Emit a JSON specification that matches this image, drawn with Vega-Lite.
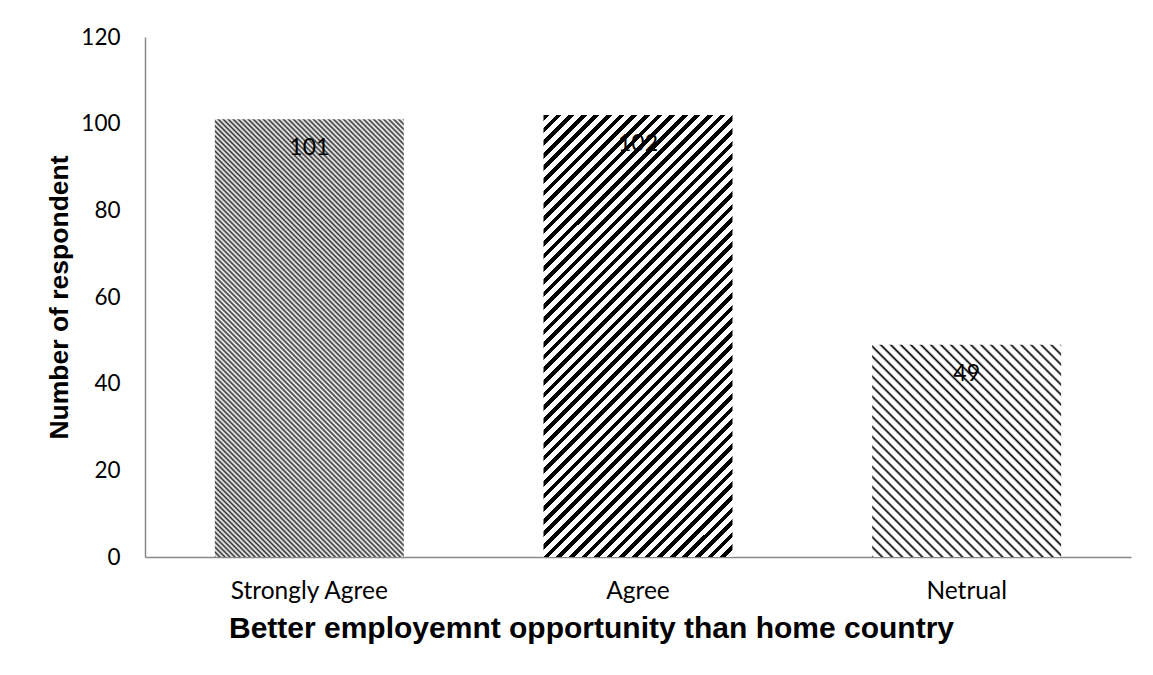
{
  "$schema": "https://vega.github.io/schema/vega-lite/v6.json",
  "width": 986,
  "height": 520,
  "autosize": {"type": "none"},
  "padding": {"left": 145, "top": 37, "right": 22, "bottom": 118},
  "background": "white",
  "config": {"view": {"stroke": null}, "font": "Lato"},
  "data": {"values": [
    {"category": "Strongly Agree", "count": 101},
    {"category": "Agree", "count": 102},
    {"category": "Netrual", "count": 49}
  ]},
  "encoding": {
    "x": {
      "field": "category", "type": "nominal", "sort": null,
      "scale": {"domain": ["Strongly Agree", "Agree", "Netrual"], "paddingInner": 0.425, "paddingOuter": 0.2125},
      "axis": {
        "title": "Better employemnt opportunity than home country",
        "labelAngle": 0, "ticks": false, "tickSize": 0, "labelPadding": 22,
        "labelFont": "Lato", "labelFontSize": 24.5, "labelColor": "#000",
        "domainColor": "#898989", "domainWidth": 1.5,
        "titleFont": "Liberation Sans", "titleFontWeight": "bold", "titleFontSize": 30, "titleColor": "#000",
        "titlePadding": 11, "titleX": 446, "titleAlign": "center"
      }
    },
    "y": {
      "field": "count", "type": "quantitative",
      "scale": {"domain": [0, 120], "nice": false},
      "axis": {
        "title": "Number of respondent",
        "values": [0, 20, 40, 60, 80, 100, 120],
        "grid": false, "ticks": false, "tickSize": 0, "labelPadding": 25,
        "labelFont": "Lato", "labelFontSize": 22.5, "labelColor": "#000",
        "domainColor": "#898989", "domainWidth": 1.5,
        "titleFont": "Liberation Sans", "titleFontWeight": "bold", "titleFontSize": 26.5, "titleColor": "#000",
        "titlePadding": 7
      }
    }
  },
  "layer": [
    {
      "transform": [{"filter": "datum.category === 'Strongly Agree'"}],
      "mark": {"type": "bar", "stroke": null, "fill": {"gradient": "linear", "x1": 0, "y1": 1, "x2": 0.5211, "y2": -0.2068, "stops": [
        {"offset": 0, "color": "#333"}, {"offset": 0.004, "color": "#fff"},
        {"offset": 0.008, "color": "#333"}, {"offset": 0.012, "color": "#fff"},
        {"offset": 0.016, "color": "#333"}, {"offset": 0.02, "color": "#fff"},
        {"offset": 0.024, "color": "#333"}, {"offset": 0.028, "color": "#fff"},
        {"offset": 0.032, "color": "#333"}, {"offset": 0.036, "color": "#fff"},
        {"offset": 0.04, "color": "#333"}, {"offset": 0.044, "color": "#fff"},
        {"offset": 0.048, "color": "#333"}, {"offset": 0.052, "color": "#fff"},
        {"offset": 0.056, "color": "#333"}, {"offset": 0.06, "color": "#fff"},
        {"offset": 0.064, "color": "#333"}, {"offset": 0.068, "color": "#fff"},
        {"offset": 0.072, "color": "#333"}, {"offset": 0.076, "color": "#fff"},
        {"offset": 0.08, "color": "#333"}, {"offset": 0.084, "color": "#fff"},
        {"offset": 0.088, "color": "#333"}, {"offset": 0.092, "color": "#fff"},
        {"offset": 0.096, "color": "#333"}, {"offset": 0.1, "color": "#fff"},
        {"offset": 0.104, "color": "#333"}, {"offset": 0.108, "color": "#fff"},
        {"offset": 0.112, "color": "#333"}, {"offset": 0.116, "color": "#fff"},
        {"offset": 0.12, "color": "#333"}, {"offset": 0.124, "color": "#fff"},
        {"offset": 0.128, "color": "#333"}, {"offset": 0.132, "color": "#fff"},
        {"offset": 0.136, "color": "#333"}, {"offset": 0.14, "color": "#fff"},
        {"offset": 0.144, "color": "#333"}, {"offset": 0.148, "color": "#fff"},
        {"offset": 0.152, "color": "#333"}, {"offset": 0.156, "color": "#fff"},
        {"offset": 0.16, "color": "#333"}, {"offset": 0.164, "color": "#fff"},
        {"offset": 0.168, "color": "#333"}, {"offset": 0.172, "color": "#fff"},
        {"offset": 0.176, "color": "#333"}, {"offset": 0.18, "color": "#fff"},
        {"offset": 0.184, "color": "#333"}, {"offset": 0.188, "color": "#fff"},
        {"offset": 0.192, "color": "#333"}, {"offset": 0.196, "color": "#fff"},
        {"offset": 0.2, "color": "#333"}, {"offset": 0.204, "color": "#fff"},
        {"offset": 0.208, "color": "#333"}, {"offset": 0.212, "color": "#fff"},
        {"offset": 0.216, "color": "#333"}, {"offset": 0.22, "color": "#fff"},
        {"offset": 0.224, "color": "#333"}, {"offset": 0.228, "color": "#fff"},
        {"offset": 0.232, "color": "#333"}, {"offset": 0.236, "color": "#fff"},
        {"offset": 0.24, "color": "#333"}, {"offset": 0.244, "color": "#fff"},
        {"offset": 0.248, "color": "#333"}, {"offset": 0.252, "color": "#fff"},
        {"offset": 0.256, "color": "#333"}, {"offset": 0.26, "color": "#fff"},
        {"offset": 0.264, "color": "#333"}, {"offset": 0.268, "color": "#fff"},
        {"offset": 0.272, "color": "#333"}, {"offset": 0.276, "color": "#fff"},
        {"offset": 0.28, "color": "#333"}, {"offset": 0.284, "color": "#fff"},
        {"offset": 0.288, "color": "#333"}, {"offset": 0.292, "color": "#fff"},
        {"offset": 0.296, "color": "#333"}, {"offset": 0.3, "color": "#fff"},
        {"offset": 0.304, "color": "#333"}, {"offset": 0.308, "color": "#fff"},
        {"offset": 0.312, "color": "#333"}, {"offset": 0.316, "color": "#fff"},
        {"offset": 0.32, "color": "#333"}, {"offset": 0.324, "color": "#fff"},
        {"offset": 0.328, "color": "#333"}, {"offset": 0.332, "color": "#fff"},
        {"offset": 0.336, "color": "#333"}, {"offset": 0.34, "color": "#fff"},
        {"offset": 0.344, "color": "#333"}, {"offset": 0.348, "color": "#fff"},
        {"offset": 0.352, "color": "#333"}, {"offset": 0.356, "color": "#fff"},
        {"offset": 0.36, "color": "#333"}, {"offset": 0.364, "color": "#fff"},
        {"offset": 0.368, "color": "#333"}, {"offset": 0.372, "color": "#fff"},
        {"offset": 0.376, "color": "#333"}, {"offset": 0.38, "color": "#fff"},
        {"offset": 0.384, "color": "#333"}, {"offset": 0.388, "color": "#fff"},
        {"offset": 0.392, "color": "#333"}, {"offset": 0.396, "color": "#fff"},
        {"offset": 0.4, "color": "#333"}, {"offset": 0.404, "color": "#fff"},
        {"offset": 0.408, "color": "#333"}, {"offset": 0.412, "color": "#fff"},
        {"offset": 0.416, "color": "#333"}, {"offset": 0.42, "color": "#fff"},
        {"offset": 0.424, "color": "#333"}, {"offset": 0.428, "color": "#fff"},
        {"offset": 0.432, "color": "#333"}, {"offset": 0.436, "color": "#fff"},
        {"offset": 0.44, "color": "#333"}, {"offset": 0.444, "color": "#fff"},
        {"offset": 0.448, "color": "#333"}, {"offset": 0.452, "color": "#fff"},
        {"offset": 0.456, "color": "#333"}, {"offset": 0.46, "color": "#fff"},
        {"offset": 0.464, "color": "#333"}, {"offset": 0.468, "color": "#fff"},
        {"offset": 0.472, "color": "#333"}, {"offset": 0.476, "color": "#fff"},
        {"offset": 0.48, "color": "#333"}, {"offset": 0.484, "color": "#fff"},
        {"offset": 0.488, "color": "#333"}, {"offset": 0.492, "color": "#fff"},
        {"offset": 0.496, "color": "#333"}, {"offset": 0.5, "color": "#fff"},
        {"offset": 0.504, "color": "#333"}, {"offset": 0.508, "color": "#fff"},
        {"offset": 0.512, "color": "#333"}, {"offset": 0.516, "color": "#fff"},
        {"offset": 0.52, "color": "#333"}, {"offset": 0.524, "color": "#fff"},
        {"offset": 0.528, "color": "#333"}, {"offset": 0.532, "color": "#fff"},
        {"offset": 0.536, "color": "#333"}, {"offset": 0.54, "color": "#fff"},
        {"offset": 0.544, "color": "#333"}, {"offset": 0.548, "color": "#fff"},
        {"offset": 0.552, "color": "#333"}, {"offset": 0.556, "color": "#fff"},
        {"offset": 0.56, "color": "#333"}, {"offset": 0.564, "color": "#fff"},
        {"offset": 0.568, "color": "#333"}, {"offset": 0.572, "color": "#fff"},
        {"offset": 0.576, "color": "#333"}, {"offset": 0.58, "color": "#fff"},
        {"offset": 0.584, "color": "#333"}, {"offset": 0.588, "color": "#fff"},
        {"offset": 0.592, "color": "#333"}, {"offset": 0.596, "color": "#fff"},
        {"offset": 0.6, "color": "#333"}, {"offset": 0.604, "color": "#fff"},
        {"offset": 0.608, "color": "#333"}, {"offset": 0.612, "color": "#fff"},
        {"offset": 0.616, "color": "#333"}, {"offset": 0.62, "color": "#fff"},
        {"offset": 0.624, "color": "#333"}, {"offset": 0.628, "color": "#fff"},
        {"offset": 0.632, "color": "#333"}, {"offset": 0.636, "color": "#fff"},
        {"offset": 0.64, "color": "#333"}, {"offset": 0.644, "color": "#fff"},
        {"offset": 0.648, "color": "#333"}, {"offset": 0.652, "color": "#fff"},
        {"offset": 0.656, "color": "#333"}, {"offset": 0.66, "color": "#fff"},
        {"offset": 0.664, "color": "#333"}, {"offset": 0.668, "color": "#fff"},
        {"offset": 0.672, "color": "#333"}, {"offset": 0.676, "color": "#fff"},
        {"offset": 0.68, "color": "#333"}, {"offset": 0.684, "color": "#fff"},
        {"offset": 0.688, "color": "#333"}, {"offset": 0.692, "color": "#fff"},
        {"offset": 0.696, "color": "#333"}, {"offset": 0.7, "color": "#fff"},
        {"offset": 0.704, "color": "#333"}, {"offset": 0.708, "color": "#fff"},
        {"offset": 0.712, "color": "#333"}, {"offset": 0.716, "color": "#fff"},
        {"offset": 0.72, "color": "#333"}, {"offset": 0.724, "color": "#fff"},
        {"offset": 0.728, "color": "#333"}, {"offset": 0.732, "color": "#fff"},
        {"offset": 0.736, "color": "#333"}, {"offset": 0.74, "color": "#fff"},
        {"offset": 0.744, "color": "#333"}, {"offset": 0.748, "color": "#fff"},
        {"offset": 0.752, "color": "#333"}, {"offset": 0.756, "color": "#fff"},
        {"offset": 0.76, "color": "#333"}, {"offset": 0.764, "color": "#fff"},
        {"offset": 0.768, "color": "#333"}, {"offset": 0.772, "color": "#fff"},
        {"offset": 0.776, "color": "#333"}, {"offset": 0.78, "color": "#fff"},
        {"offset": 0.784, "color": "#333"}, {"offset": 0.788, "color": "#fff"},
        {"offset": 0.792, "color": "#333"}, {"offset": 0.796, "color": "#fff"},
        {"offset": 0.8, "color": "#333"}, {"offset": 0.804, "color": "#fff"},
        {"offset": 0.808, "color": "#333"}, {"offset": 0.812, "color": "#fff"},
        {"offset": 0.816, "color": "#333"}, {"offset": 0.82, "color": "#fff"},
        {"offset": 0.824, "color": "#333"}, {"offset": 0.828, "color": "#fff"},
        {"offset": 0.832, "color": "#333"}, {"offset": 0.836, "color": "#fff"},
        {"offset": 0.84, "color": "#333"}, {"offset": 0.844, "color": "#fff"},
        {"offset": 0.848, "color": "#333"}, {"offset": 0.852, "color": "#fff"},
        {"offset": 0.856, "color": "#333"}, {"offset": 0.86, "color": "#fff"},
        {"offset": 0.864, "color": "#333"}, {"offset": 0.868, "color": "#fff"},
        {"offset": 0.872, "color": "#333"}, {"offset": 0.876, "color": "#fff"},
        {"offset": 0.88, "color": "#333"}, {"offset": 0.884, "color": "#fff"},
        {"offset": 0.888, "color": "#333"}, {"offset": 0.892, "color": "#fff"},
        {"offset": 0.896, "color": "#333"}, {"offset": 0.9, "color": "#fff"},
        {"offset": 0.904, "color": "#333"}, {"offset": 0.908, "color": "#fff"},
        {"offset": 0.912, "color": "#333"}, {"offset": 0.916, "color": "#fff"},
        {"offset": 0.92, "color": "#333"}, {"offset": 0.924, "color": "#fff"},
        {"offset": 0.928, "color": "#333"}, {"offset": 0.932, "color": "#fff"},
        {"offset": 0.936, "color": "#333"}, {"offset": 0.94, "color": "#fff"},
        {"offset": 0.944, "color": "#333"}, {"offset": 0.948, "color": "#fff"},
        {"offset": 0.952, "color": "#333"}, {"offset": 0.956, "color": "#fff"},
        {"offset": 0.96, "color": "#333"}, {"offset": 0.964, "color": "#fff"},
        {"offset": 0.968, "color": "#333"}, {"offset": 0.972, "color": "#fff"},
        {"offset": 0.976, "color": "#333"}, {"offset": 0.98, "color": "#fff"},
        {"offset": 0.984, "color": "#333"}, {"offset": 0.988, "color": "#fff"},
        {"offset": 0.992, "color": "#333"}, {"offset": 0.996, "color": "#fff"},
        {"offset": 1, "color": "#333"}
      ]}}
    },
    {
      "transform": [{"filter": "datum.category === 'Agree'"}],
      "mark": {"type": "bar", "stroke": null, "fill": {"gradient": "linear", "x1": 0, "y1": 0, "x2": 0.516, "y2": 1.2069, "stops": [
        {"offset": 0, "color": "#000"}, {"offset": 0.009, "color": "#000"}, {"offset": 0.009, "color": "#fff"}, {"offset": 0.02, "color": "#fff"},
        {"offset": 0.02, "color": "#000"}, {"offset": 0.029, "color": "#000"}, {"offset": 0.029, "color": "#fff"}, {"offset": 0.04, "color": "#fff"},
        {"offset": 0.04, "color": "#000"}, {"offset": 0.049, "color": "#000"}, {"offset": 0.049, "color": "#fff"}, {"offset": 0.06, "color": "#fff"},
        {"offset": 0.06, "color": "#000"}, {"offset": 0.069, "color": "#000"}, {"offset": 0.069, "color": "#fff"}, {"offset": 0.08, "color": "#fff"},
        {"offset": 0.08, "color": "#000"}, {"offset": 0.089, "color": "#000"}, {"offset": 0.089, "color": "#fff"}, {"offset": 0.1, "color": "#fff"},
        {"offset": 0.1, "color": "#000"}, {"offset": 0.109, "color": "#000"}, {"offset": 0.109, "color": "#fff"}, {"offset": 0.12, "color": "#fff"},
        {"offset": 0.12, "color": "#000"}, {"offset": 0.129, "color": "#000"}, {"offset": 0.129, "color": "#fff"}, {"offset": 0.14, "color": "#fff"},
        {"offset": 0.14, "color": "#000"}, {"offset": 0.149, "color": "#000"}, {"offset": 0.149, "color": "#fff"}, {"offset": 0.16, "color": "#fff"},
        {"offset": 0.16, "color": "#000"}, {"offset": 0.169, "color": "#000"}, {"offset": 0.169, "color": "#fff"}, {"offset": 0.18, "color": "#fff"},
        {"offset": 0.18, "color": "#000"}, {"offset": 0.189, "color": "#000"}, {"offset": 0.189, "color": "#fff"}, {"offset": 0.2, "color": "#fff"},
        {"offset": 0.2, "color": "#000"}, {"offset": 0.209, "color": "#000"}, {"offset": 0.209, "color": "#fff"}, {"offset": 0.22, "color": "#fff"},
        {"offset": 0.22, "color": "#000"}, {"offset": 0.229, "color": "#000"}, {"offset": 0.229, "color": "#fff"}, {"offset": 0.24, "color": "#fff"},
        {"offset": 0.24, "color": "#000"}, {"offset": 0.249, "color": "#000"}, {"offset": 0.249, "color": "#fff"}, {"offset": 0.26, "color": "#fff"},
        {"offset": 0.26, "color": "#000"}, {"offset": 0.269, "color": "#000"}, {"offset": 0.269, "color": "#fff"}, {"offset": 0.28, "color": "#fff"},
        {"offset": 0.28, "color": "#000"}, {"offset": 0.289, "color": "#000"}, {"offset": 0.289, "color": "#fff"}, {"offset": 0.3, "color": "#fff"},
        {"offset": 0.3, "color": "#000"}, {"offset": 0.309, "color": "#000"}, {"offset": 0.309, "color": "#fff"}, {"offset": 0.32, "color": "#fff"},
        {"offset": 0.32, "color": "#000"}, {"offset": 0.329, "color": "#000"}, {"offset": 0.329, "color": "#fff"}, {"offset": 0.34, "color": "#fff"},
        {"offset": 0.34, "color": "#000"}, {"offset": 0.349, "color": "#000"}, {"offset": 0.349, "color": "#fff"}, {"offset": 0.36, "color": "#fff"},
        {"offset": 0.36, "color": "#000"}, {"offset": 0.369, "color": "#000"}, {"offset": 0.369, "color": "#fff"}, {"offset": 0.38, "color": "#fff"},
        {"offset": 0.38, "color": "#000"}, {"offset": 0.389, "color": "#000"}, {"offset": 0.389, "color": "#fff"}, {"offset": 0.4, "color": "#fff"},
        {"offset": 0.4, "color": "#000"}, {"offset": 0.409, "color": "#000"}, {"offset": 0.409, "color": "#fff"}, {"offset": 0.42, "color": "#fff"},
        {"offset": 0.42, "color": "#000"}, {"offset": 0.429, "color": "#000"}, {"offset": 0.429, "color": "#fff"}, {"offset": 0.44, "color": "#fff"},
        {"offset": 0.44, "color": "#000"}, {"offset": 0.449, "color": "#000"}, {"offset": 0.449, "color": "#fff"}, {"offset": 0.46, "color": "#fff"},
        {"offset": 0.46, "color": "#000"}, {"offset": 0.469, "color": "#000"}, {"offset": 0.469, "color": "#fff"}, {"offset": 0.48, "color": "#fff"},
        {"offset": 0.48, "color": "#000"}, {"offset": 0.489, "color": "#000"}, {"offset": 0.489, "color": "#fff"}, {"offset": 0.5, "color": "#fff"},
        {"offset": 0.5, "color": "#000"}, {"offset": 0.509, "color": "#000"}, {"offset": 0.509, "color": "#fff"}, {"offset": 0.52, "color": "#fff"},
        {"offset": 0.52, "color": "#000"}, {"offset": 0.529, "color": "#000"}, {"offset": 0.529, "color": "#fff"}, {"offset": 0.54, "color": "#fff"},
        {"offset": 0.54, "color": "#000"}, {"offset": 0.549, "color": "#000"}, {"offset": 0.549, "color": "#fff"}, {"offset": 0.56, "color": "#fff"},
        {"offset": 0.56, "color": "#000"}, {"offset": 0.569, "color": "#000"}, {"offset": 0.569, "color": "#fff"}, {"offset": 0.58, "color": "#fff"},
        {"offset": 0.58, "color": "#000"}, {"offset": 0.589, "color": "#000"}, {"offset": 0.589, "color": "#fff"}, {"offset": 0.6, "color": "#fff"},
        {"offset": 0.6, "color": "#000"}, {"offset": 0.609, "color": "#000"}, {"offset": 0.609, "color": "#fff"}, {"offset": 0.62, "color": "#fff"},
        {"offset": 0.62, "color": "#000"}, {"offset": 0.629, "color": "#000"}, {"offset": 0.629, "color": "#fff"}, {"offset": 0.64, "color": "#fff"},
        {"offset": 0.64, "color": "#000"}, {"offset": 0.649, "color": "#000"}, {"offset": 0.649, "color": "#fff"}, {"offset": 0.66, "color": "#fff"},
        {"offset": 0.66, "color": "#000"}, {"offset": 0.669, "color": "#000"}, {"offset": 0.669, "color": "#fff"}, {"offset": 0.68, "color": "#fff"},
        {"offset": 0.68, "color": "#000"}, {"offset": 0.689, "color": "#000"}, {"offset": 0.689, "color": "#fff"}, {"offset": 0.7, "color": "#fff"},
        {"offset": 0.7, "color": "#000"}, {"offset": 0.709, "color": "#000"}, {"offset": 0.709, "color": "#fff"}, {"offset": 0.72, "color": "#fff"},
        {"offset": 0.72, "color": "#000"}, {"offset": 0.729, "color": "#000"}, {"offset": 0.729, "color": "#fff"}, {"offset": 0.74, "color": "#fff"},
        {"offset": 0.74, "color": "#000"}, {"offset": 0.749, "color": "#000"}, {"offset": 0.749, "color": "#fff"}, {"offset": 0.76, "color": "#fff"},
        {"offset": 0.76, "color": "#000"}, {"offset": 0.769, "color": "#000"}, {"offset": 0.769, "color": "#fff"}, {"offset": 0.78, "color": "#fff"},
        {"offset": 0.78, "color": "#000"}, {"offset": 0.789, "color": "#000"}, {"offset": 0.789, "color": "#fff"}, {"offset": 0.8, "color": "#fff"},
        {"offset": 0.8, "color": "#000"}, {"offset": 0.809, "color": "#000"}, {"offset": 0.809, "color": "#fff"}, {"offset": 0.82, "color": "#fff"},
        {"offset": 0.82, "color": "#000"}, {"offset": 0.829, "color": "#000"}, {"offset": 0.829, "color": "#fff"}, {"offset": 0.84, "color": "#fff"},
        {"offset": 0.84, "color": "#000"}, {"offset": 0.849, "color": "#000"}, {"offset": 0.849, "color": "#fff"}, {"offset": 0.86, "color": "#fff"},
        {"offset": 0.86, "color": "#000"}, {"offset": 0.869, "color": "#000"}, {"offset": 0.869, "color": "#fff"}, {"offset": 0.88, "color": "#fff"},
        {"offset": 0.88, "color": "#000"}, {"offset": 0.889, "color": "#000"}, {"offset": 0.889, "color": "#fff"}, {"offset": 0.9, "color": "#fff"},
        {"offset": 0.9, "color": "#000"}, {"offset": 0.909, "color": "#000"}, {"offset": 0.909, "color": "#fff"}, {"offset": 0.92, "color": "#fff"},
        {"offset": 0.92, "color": "#000"}, {"offset": 0.929, "color": "#000"}, {"offset": 0.929, "color": "#fff"}, {"offset": 0.94, "color": "#fff"},
        {"offset": 0.94, "color": "#000"}, {"offset": 0.949, "color": "#000"}, {"offset": 0.949, "color": "#fff"}, {"offset": 0.96, "color": "#fff"},
        {"offset": 0.96, "color": "#000"}, {"offset": 0.969, "color": "#000"}, {"offset": 0.969, "color": "#fff"}, {"offset": 0.98, "color": "#fff"},
        {"offset": 0.98, "color": "#000"}, {"offset": 0.989, "color": "#000"}, {"offset": 0.989, "color": "#fff"}, {"offset": 1, "color": "#fff"}
      ]}}
    },
    {
      "transform": [{"filter": "datum.category === 'Netrual'"}],
      "mark": {"type": "bar", "stroke": null, "fill": {"gradient": "linear", "x1": 0, "y1": 1, "x2": 0.9387, "y2": -0.0546, "stops": [
        {"offset": 0, "color": "#000"}, {"offset": 0.006, "color": "#fff"}, {"offset": 0.019, "color": "#fff"},
        {"offset": 0.025, "color": "#000"}, {"offset": 0.031, "color": "#fff"}, {"offset": 0.044, "color": "#fff"},
        {"offset": 0.05, "color": "#000"}, {"offset": 0.056, "color": "#fff"}, {"offset": 0.069, "color": "#fff"},
        {"offset": 0.075, "color": "#000"}, {"offset": 0.081, "color": "#fff"}, {"offset": 0.094, "color": "#fff"},
        {"offset": 0.1, "color": "#000"}, {"offset": 0.106, "color": "#fff"}, {"offset": 0.119, "color": "#fff"},
        {"offset": 0.125, "color": "#000"}, {"offset": 0.131, "color": "#fff"}, {"offset": 0.144, "color": "#fff"},
        {"offset": 0.15, "color": "#000"}, {"offset": 0.156, "color": "#fff"}, {"offset": 0.169, "color": "#fff"},
        {"offset": 0.175, "color": "#000"}, {"offset": 0.181, "color": "#fff"}, {"offset": 0.194, "color": "#fff"},
        {"offset": 0.2, "color": "#000"}, {"offset": 0.206, "color": "#fff"}, {"offset": 0.219, "color": "#fff"},
        {"offset": 0.225, "color": "#000"}, {"offset": 0.231, "color": "#fff"}, {"offset": 0.244, "color": "#fff"},
        {"offset": 0.25, "color": "#000"}, {"offset": 0.256, "color": "#fff"}, {"offset": 0.269, "color": "#fff"},
        {"offset": 0.275, "color": "#000"}, {"offset": 0.281, "color": "#fff"}, {"offset": 0.294, "color": "#fff"},
        {"offset": 0.3, "color": "#000"}, {"offset": 0.306, "color": "#fff"}, {"offset": 0.319, "color": "#fff"},
        {"offset": 0.325, "color": "#000"}, {"offset": 0.331, "color": "#fff"}, {"offset": 0.344, "color": "#fff"},
        {"offset": 0.35, "color": "#000"}, {"offset": 0.356, "color": "#fff"}, {"offset": 0.369, "color": "#fff"},
        {"offset": 0.375, "color": "#000"}, {"offset": 0.381, "color": "#fff"}, {"offset": 0.394, "color": "#fff"},
        {"offset": 0.4, "color": "#000"}, {"offset": 0.406, "color": "#fff"}, {"offset": 0.419, "color": "#fff"},
        {"offset": 0.425, "color": "#000"}, {"offset": 0.431, "color": "#fff"}, {"offset": 0.444, "color": "#fff"},
        {"offset": 0.45, "color": "#000"}, {"offset": 0.456, "color": "#fff"}, {"offset": 0.469, "color": "#fff"},
        {"offset": 0.475, "color": "#000"}, {"offset": 0.481, "color": "#fff"}, {"offset": 0.494, "color": "#fff"},
        {"offset": 0.5, "color": "#000"}, {"offset": 0.506, "color": "#fff"}, {"offset": 0.519, "color": "#fff"},
        {"offset": 0.525, "color": "#000"}, {"offset": 0.531, "color": "#fff"}, {"offset": 0.544, "color": "#fff"},
        {"offset": 0.55, "color": "#000"}, {"offset": 0.556, "color": "#fff"}, {"offset": 0.569, "color": "#fff"},
        {"offset": 0.575, "color": "#000"}, {"offset": 0.581, "color": "#fff"}, {"offset": 0.594, "color": "#fff"},
        {"offset": 0.6, "color": "#000"}, {"offset": 0.606, "color": "#fff"}, {"offset": 0.619, "color": "#fff"},
        {"offset": 0.625, "color": "#000"}, {"offset": 0.631, "color": "#fff"}, {"offset": 0.644, "color": "#fff"},
        {"offset": 0.65, "color": "#000"}, {"offset": 0.656, "color": "#fff"}, {"offset": 0.669, "color": "#fff"},
        {"offset": 0.675, "color": "#000"}, {"offset": 0.681, "color": "#fff"}, {"offset": 0.694, "color": "#fff"},
        {"offset": 0.7, "color": "#000"}, {"offset": 0.706, "color": "#fff"}, {"offset": 0.719, "color": "#fff"},
        {"offset": 0.725, "color": "#000"}, {"offset": 0.731, "color": "#fff"}, {"offset": 0.744, "color": "#fff"},
        {"offset": 0.75, "color": "#000"}, {"offset": 0.756, "color": "#fff"}, {"offset": 0.769, "color": "#fff"},
        {"offset": 0.775, "color": "#000"}, {"offset": 0.781, "color": "#fff"}, {"offset": 0.794, "color": "#fff"},
        {"offset": 0.8, "color": "#000"}, {"offset": 0.806, "color": "#fff"}, {"offset": 0.819, "color": "#fff"},
        {"offset": 0.825, "color": "#000"}, {"offset": 0.831, "color": "#fff"}, {"offset": 0.844, "color": "#fff"},
        {"offset": 0.85, "color": "#000"}, {"offset": 0.856, "color": "#fff"}, {"offset": 0.869, "color": "#fff"},
        {"offset": 0.875, "color": "#000"}, {"offset": 0.881, "color": "#fff"}, {"offset": 0.894, "color": "#fff"},
        {"offset": 0.9, "color": "#000"}, {"offset": 0.906, "color": "#fff"}, {"offset": 0.919, "color": "#fff"},
        {"offset": 0.925, "color": "#000"}, {"offset": 0.931, "color": "#fff"}, {"offset": 0.944, "color": "#fff"},
        {"offset": 0.95, "color": "#000"}, {"offset": 0.956, "color": "#fff"}, {"offset": 0.969, "color": "#fff"},
        {"offset": 0.975, "color": "#000"}, {"offset": 0.981, "color": "#fff"}, {"offset": 0.994, "color": "#fff"},
        {"offset": 1, "color": "#000"}
      ]}}
    },
    {
      "mark": {"type": "text", "dy": 29, "baseline": "middle", "align": "center", "font": "Lato", "fontSize": 23, "color": "#000"},
      "encoding": {"text": {"field": "count", "type": "quantitative"}}
    }
  ]
}
